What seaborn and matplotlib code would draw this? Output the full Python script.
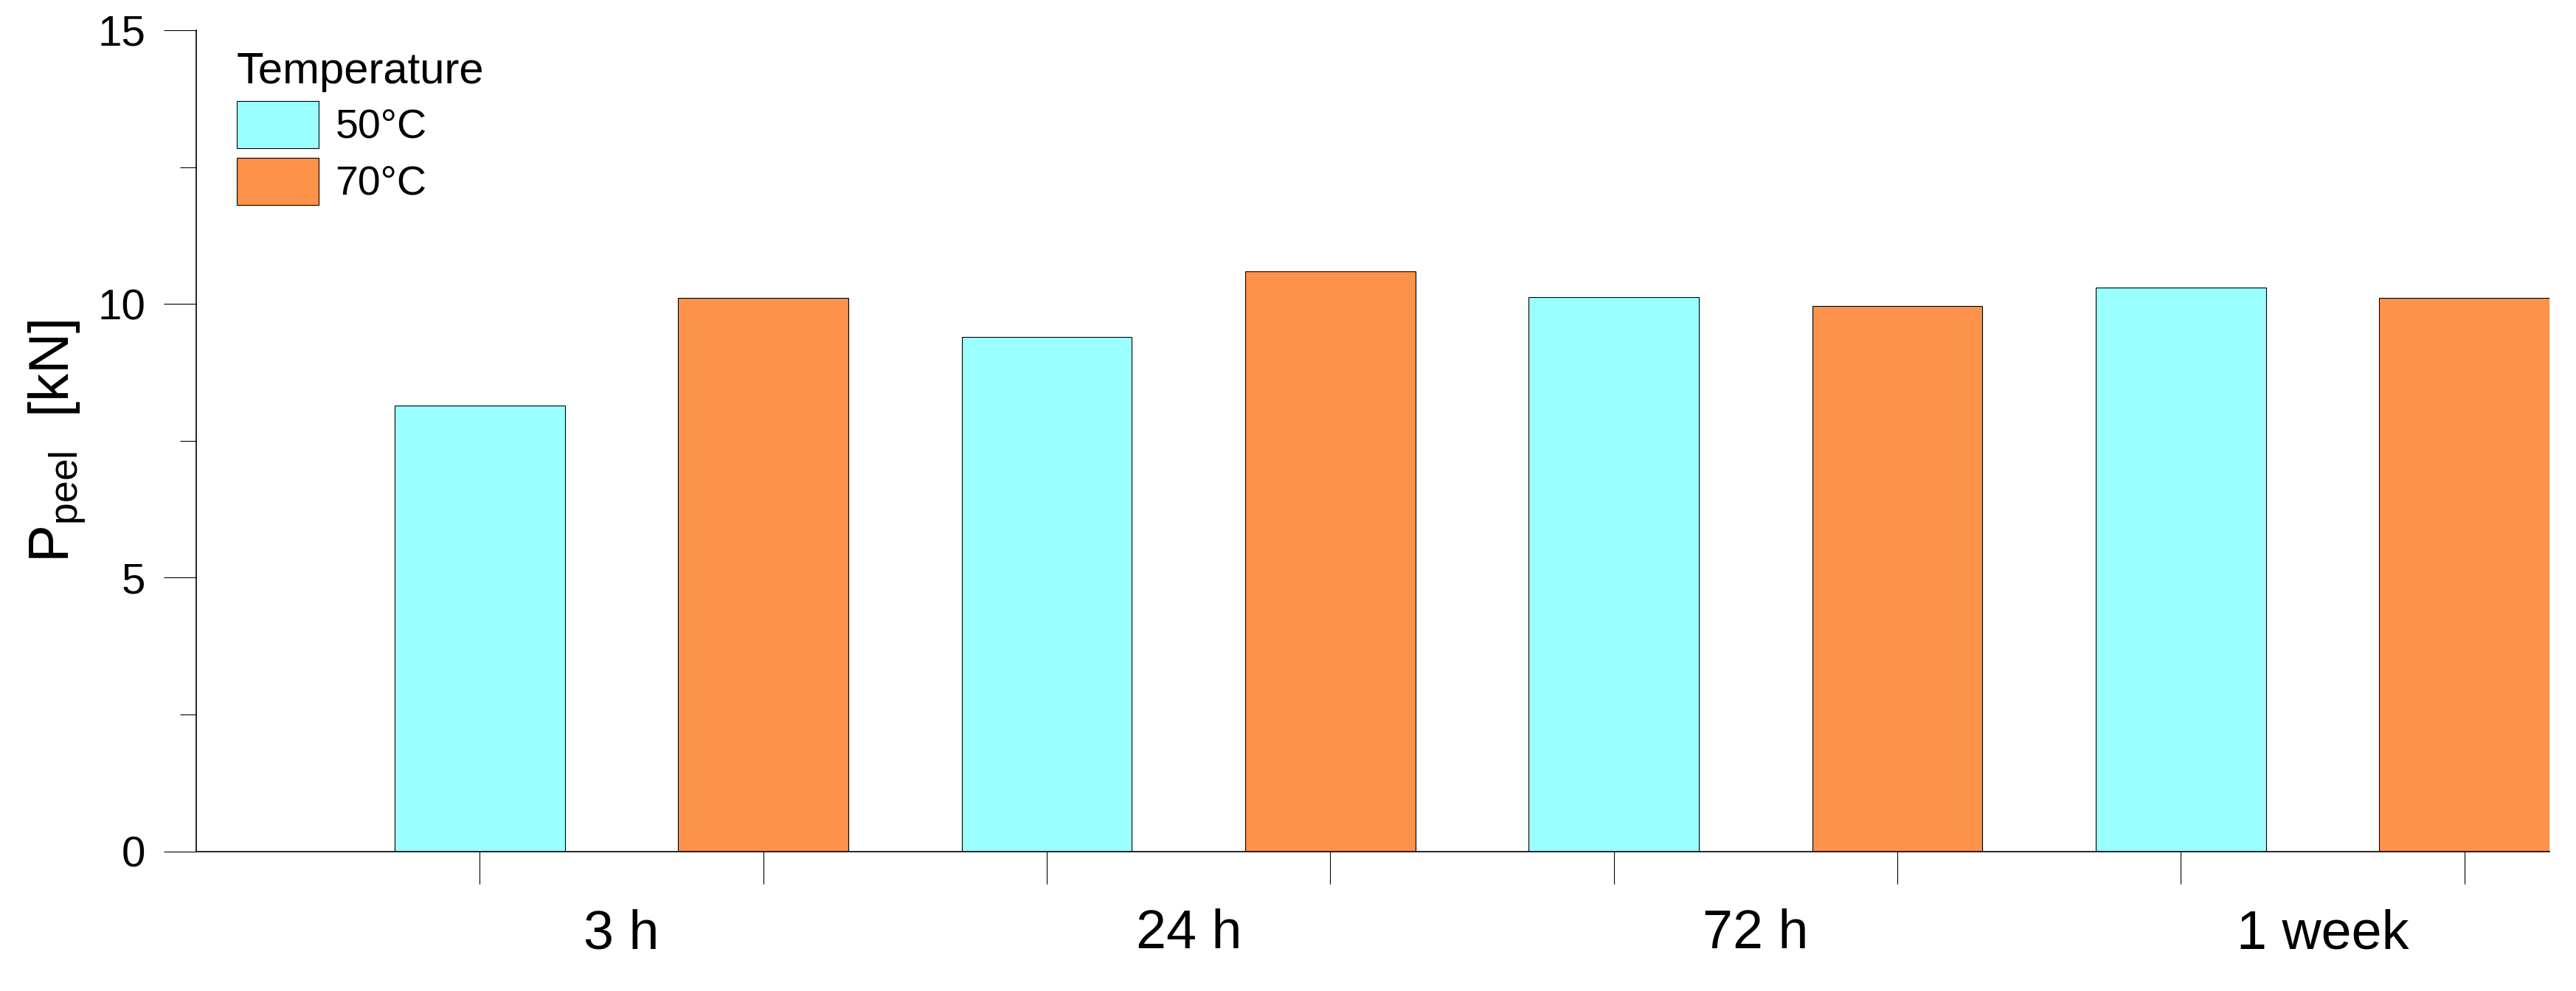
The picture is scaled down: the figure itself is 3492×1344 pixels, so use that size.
import numpy as np
import pandas as pd
import matplotlib
matplotlib.use("Agg")
import matplotlib.pyplot as plt
import seaborn as sns

# data
times = ["3 h", "24 h", "72 h", "1 week"]
temps = ["50°C", "70°C"]
peel_50 = [8.14, 9.39, 10.12, 10.30]
peel_70 = [10.11, 10.59, 9.96, 10.11]

colors = ["#9bffff", "#fd924a"]

df = pd.DataFrame({
    "time": times * 2,
    "Temperature": [temps[0]] * 4 + [temps[1]] * 4,
    "value": peel_50 + peel_70,
})

sns.set_style("ticks")
plt.rcParams["font.family"] = ["Liberation Sans", "DejaVu Sans"]
plt.rcParams["mathtext.default"] = "regular"
for k in ["text.color", "axes.labelcolor", "xtick.color", "ytick.color", "axes.edgecolor"]:
    plt.rcParams[k] = "black"

fig = plt.figure(figsize=(34.92, 13.44), dpi=100)
ax = fig.add_axes([0.0762, 0.1409, 0.9897 - 0.0762, 0.9695 - 0.1409])

sns.barplot(
    data=df, x="time", y="value", hue="Temperature", order=times,
    hue_order=temps, palette=colors, width=1.0, gap=0.4,
    edgecolor="black", linewidth=0.8, errorbar=None, saturation=1, ax=ax,
)

# ticks at each bar centre, labels centred under each pair
centers = sorted(b.get_x() + b.get_width() / 2 for c in ax.containers for b in c)
ax.set_xticks(centers, labels=[""] * len(centers))
ax.set_xticks(range(len(times)), labels=times, minor=True)
ax.tick_params(axis="x", which="major", length=32, width=0.8, direction="out")
ax.tick_params(axis="x", which="minor", length=0, labelsize=53, pad=56)
ax.set_xlim(centers[0] - (centers[1] - centers[0]), centers[-1] + 0.15)
ax.set_xlabel("")

ax.set_ylim(0, 15)
ax.set_yticks([0, 5, 10, 15])
ax.set_yticks([2.5, 7.5, 12.5], minor=True)
ax.tick_params(axis="y", which="major", length=31.7, width=0.8, labelsize=42, pad=18)
ax.tick_params(axis="y", which="minor", length=15.8, width=0.8)
ax.set_ylabel("$P_{peel}$  [kN]", fontsize=55, labelpad=10)

sns.despine(ax=ax)
for s in ["left", "bottom"]:
    ax.spines[s].set_linewidth(1.2)

leg = ax.legend(
    title="Temperature", loc="upper left", bbox_to_anchor=(0.0172, 0.974),
    frameon=False, fontsize=40, title_fontsize=43, handlelength=2.0,
    handleheight=1.4, labelspacing=0.22, handletextpad=0.4,
    borderpad=0, borderaxespad=0, alignment="left",
)
for h in leg.legend_handles:
    h.set_edgecolor("black")
    h.set_linewidth(0.8)

fig.savefig("out.png", dpi=100)
